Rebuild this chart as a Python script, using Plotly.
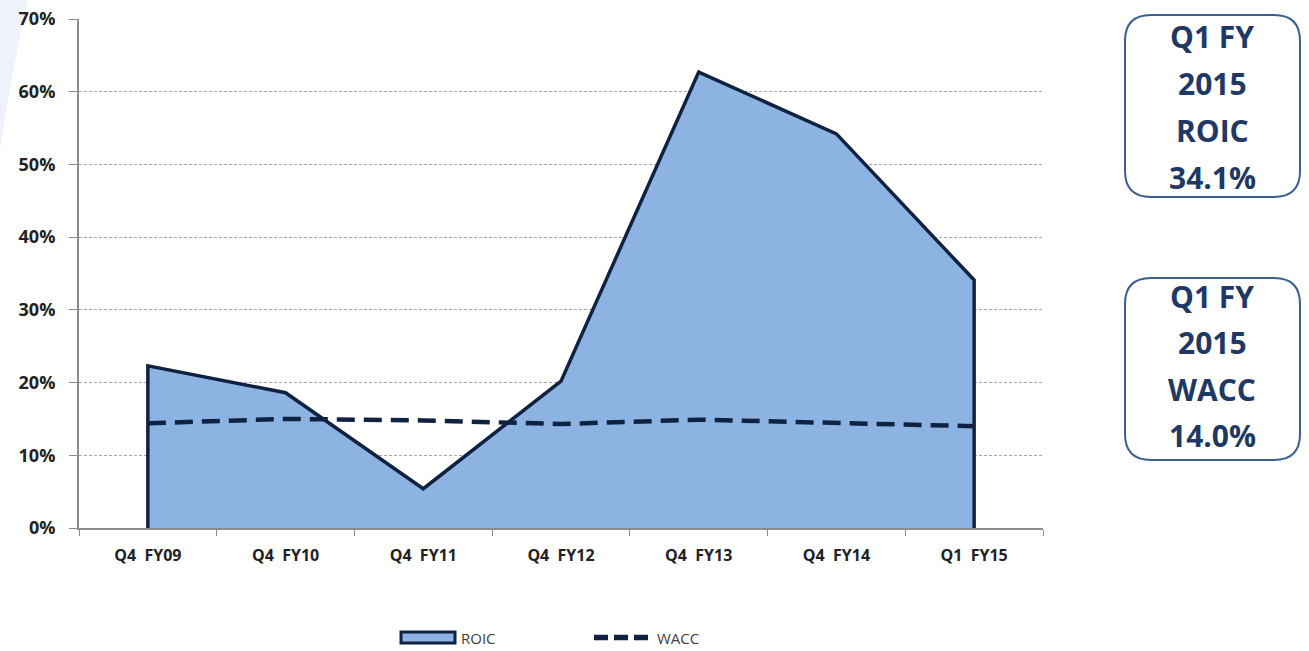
import plotly.graph_objects as go

categories = ["Q4\u00a0\u00a0FY09", "Q4\u00a0\u00a0FY10", "Q4\u00a0\u00a0FY11", "Q4\u00a0\u00a0FY12",
              "Q4\u00a0\u00a0FY13", "Q4\u00a0\u00a0FY14", "Q1\u00a0\u00a0FY15"]
roic = [22.3, 18.6, 5.4, 20.2, 62.7, 54.2, 34.1]
wacc = [14.4, 15.0, 14.8, 14.3, 14.9, 14.5, 14.0]
y_ticks = [0, 10, 20, 30, 40, 50, 60, 70]
y_tick_labels = [f"{v}%" for v in y_ticks]
box1_lines = ["Q1 FY", "2015", "ROIC", "34.1%"]
box2_lines = ["Q1 FY", "2015", "WACC", "14.0%"]
series_names = ["ROIC", "WACC"]

navy = "#0f2241"
fill_blue = "#8db3e2"
fig = go.Figure()

fig.add_trace(go.Scatter(
    x=[categories[0]] + categories + [categories[-1]],
    y=[0] + roic + [0],
    mode="lines", fill="tozeroy", fillcolor=fill_blue,
    line=dict(color=navy, width=3.5),
    name=series_names[0], showlegend=False,
))
fig.add_trace(go.Scatter(
    x=categories, y=wacc, mode="lines",
    line=dict(color=navy, width=4.5, dash="18px,9px"),
    name=series_names[1], showlegend=False,
))

L, R, T, B = 79, 1043, 19, 528
W, H = R - L, B - T
def px(x): return (x - L) / W
def py(y): return (B - y) / H

def rounded_rect(x0, y0, x1, y1, r):
    rx, ry = r / W, r / H
    X0, X1 = px(x0), px(x1)
    Y0, Y1 = py(y0), py(y1)
    return (f"M {X0+rx},{Y0} L {X1-rx},{Y0} Q {X1},{Y0} {X1},{Y0-ry} "
            f"L {X1},{Y1+ry} Q {X1},{Y1} {X1-rx},{Y1} "
            f"L {X0+rx},{Y1} Q {X0},{Y1} {X0},{Y1+ry} "
            f"L {X0},{Y0-ry} Q {X0},{Y0} {X0+rx},{Y0} Z")

shapes = []
shapes.append(dict(type="path", xref="paper", yref="paper",
                   path=f"M {px(0)},{py(0)} L {px(28)},{py(0)} Q {px(10)},{py(80)} {px(0)},{py(150)} Z",
                   fillcolor="#eef2fb", line=dict(width=0), layer="below"))
for (x0, y0, x1, y1) in [(1125, 15, 1300, 197), (1125, 278, 1300, 460)]:
    shapes.append(dict(type="path", xref="paper", yref="paper",
                       path=rounded_rect(x0, y0, x1, y1, 26),
                       line=dict(color="#3d5f8f", width=2), fillcolor="rgba(0,0,0,0)"))

# custom legend keys
shapes.append(dict(type="rect", xref="paper", yref="paper",
                   x0=px(401), x1=px(455), y0=py(643), y1=py(632),
                   fillcolor=fill_blue, line=dict(color=navy, width=3)))
shapes.append(dict(type="line", xref="paper", yref="paper",
                   x0=px(594), x1=px(653), y0=py(637.5), y1=py(637.5),
                   line=dict(color=navy, width=5.5, dash="14px,6px")))

annotations = []
for lines, ys in [(box1_lines, [36, 83, 130, 177]), (box2_lines, [296, 342, 389, 435])]:
    for t, yy in zip(lines, ys):
        annotations.append(dict(xref="paper", yref="paper", x=px(1212), y=py(yy),
                                text=t, showarrow=False, xanchor="center", yanchor="middle",
                                font=dict(family="Open Sans", size=30, color="#1f3864", weight="bold")))
for name, lx in zip(series_names, [459, 655]):
    annotations.append(dict(xref="paper", yref="paper", x=px(lx), y=py(637.5),
                            text=name, showarrow=False, xanchor="left", yanchor="middle",
                            font=dict(family="Open Sans", size=15, color="#404040")))

fig.update_layout(
    width=1309, height=651,
    margin=dict(l=L, r=1309 - R, t=T, b=651 - B, autoexpand=False),
    paper_bgcolor="white", plot_bgcolor="white",
    shapes=shapes, annotations=annotations,
    showlegend=False,
    xaxis=dict(type="category", range=[-0.5, 6.5], showgrid=False,
               showline=True, linecolor="#8c8c8c", linewidth=2,
               ticks="outside", tickson="boundaries", ticklen=6, tickcolor="#8c8c8c",
               ticklabelstandoff=12,
               tickfont=dict(family="Open Sans", size=16, color="#222", weight="bold"),
               fixedrange=True),
    yaxis=dict(range=[0, 70], tickvals=y_ticks, ticktext=y_tick_labels,
               showgrid=True, gridcolor="#a6a6a6", griddash="3px,2px", gridwidth=1,
               showline=True, linecolor="#8c8c8c", linewidth=2,
               ticks="outside", ticklen=8, tickcolor="#8c8c8c",
               ticklabelstandoff=10,
               tickfont=dict(family="Open Sans", size=18, color="#222", weight="bold"),
               zeroline=False, fixedrange=True),
)

fig.write_html("out.html")
